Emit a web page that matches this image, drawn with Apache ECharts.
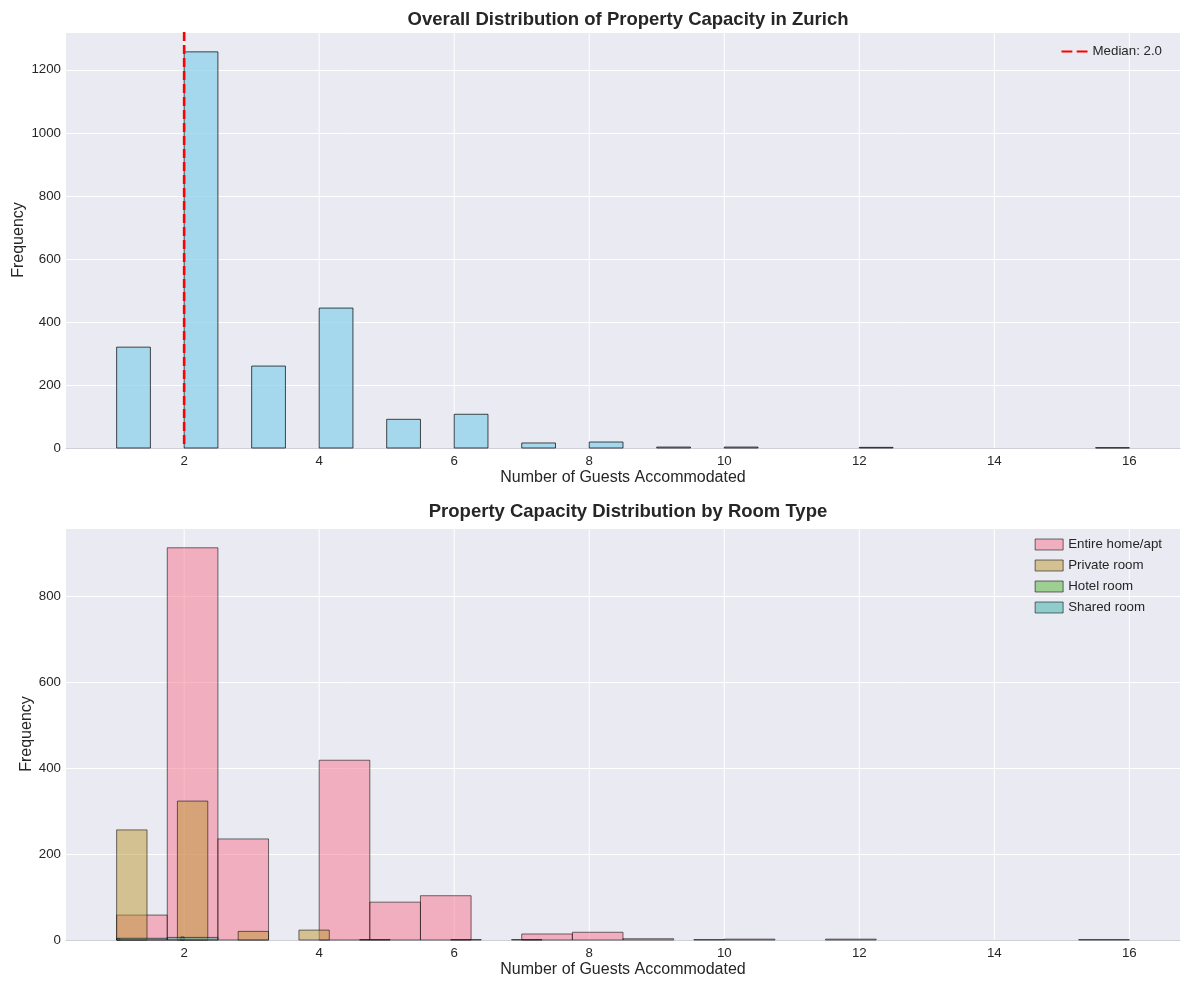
<!DOCTYPE html>
<html>
<head>
<meta charset="utf-8">
<title>Property Capacity in Zurich</title>
<script src="https://cdn.jsdelivr.net/npm/echarts@6/dist/echarts.min.js"></script>
<style>
  html, body { margin: 0; padding: 0; background: #fff; }
  #chart { width: 1189px; height: 990px; }
</style>
</head>
<body>
<div id="chart"></div>
<script>
// Overall histogram: 0.5-wide bins, left edge of each non-empty bin.
const OVERALL_BIN_LEFT = [1, 2, 3, 4, 5, 6, 7, 8, 9, 10, 12, 15.5];
const OVERALL_BIN_WIDTH = 0.5;
const OVERALL_COUNTS = [320, 1257, 260, 444, 91, 107, 16, 19, 3, 3, 2, 1];
const MEDIAN = 2.0;

// Per room type: each type got its own 20 bins over its own range.
const ROOM_TYPES = ['Entire home/apt', 'Private room', 'Hotel room', 'Shared room'];
const ROOM_BIN_WIDTH = [0.75, 0.45, 0.05, 0.75];
const ROOM_BIN_LEFT = [
  [1, 1.75, 2.5, 4, 4.75, 5.5, 7, 7.75, 8.5, 10, 11.5, 15.25],
  [1, 1.9, 2.8, 3.7, 4.6, 5.95, 6.85, 9.55],
  [1, 1.95],
  [1, 1.75],
];
const ROOM_COUNTS = [
  [58, 912, 235, 418, 88, 103, 14, 18, 3, 2, 2, 1],
  [256, 323, 20, 23, 1, 1, 1, 1],
  [3, 7],
  [4, 6],
];

const X_TICKS = [2, 4, 6, 8, 10, 12, 14, 16];

const X_MIN = 0.25, X_MAX = 16.75;
const TOP_Y_MAX = 1320;
const BOTTOM_Y_MAX = 958;

// seaborn "husl" colours, drawn at alpha 0.5 like the original
const ROOM_COLORS = [
  'rgba(247,113,137,0.5)',
  'rgba(187,152,50,0.5)',
  'rgba(80,177,49,0.5)',
  'rgba(54,173,164,0.5)',
];

const FONT = '"Liberation Sans", Arial, sans-serif';
const TEXT = '#262626';

function binData(lefts, width, counts) {
  return lefts.map((l, i) => [l, l + width, counts[i]]);
}

function barRenderer(fill, stroke) {
  return (params, api) => {
    const top = api.coord([api.value(0), api.value(2)]);
    const base = api.coord([api.value(1), 0]);
    return {
      type: 'rect',
      shape: { x: top[0], y: top[1], width: base[0] - top[0], height: base[1] - top[1] },
      style: { fill, stroke, lineWidth: 1 },
    };
  };
}

// White vertical grid lines at the x ticks (value axis min is not a tick multiple).
function gridLineSeries(idx) {
  return {
    type: 'custom',
    xAxisIndex: idx, yAxisIndex: idx,
    silent: true,
    z: 1,
    data: X_TICKS.map(v => [v]),
    encode: { x: 0 },
    renderItem: (params, api) => {
      const cs = params.coordSys;
      const x = api.coord([api.value(0), 0])[0];
      return {
        type: 'line',
        shape: { x1: x, y1: cs.y, x2: x, y2: cs.y + cs.height },
        style: { stroke: '#ffffff', lineWidth: 1 },
      };
    },
  };
}

function xAxis(idx) {
  return {
    type: 'value', gridIndex: idx,
    min: X_MIN, max: X_MAX, interval: 0.25,
    name: 'Number of Guests Accommodated',
    nameLocation: 'middle', nameGap: 22,
    nameMoveOverlap: false,
    nameTextStyle: { fontFamily: FONT, fontSize: 16, color: TEXT },
    axisLine: { show: true, lineStyle: { color: '#cfcfd8', width: 1 } },
    axisTick: { show: false },
    splitLine: { show: false },
    axisLabel: {
      fontFamily: FONT, fontSize: 13.3, color: TEXT, margin: 7,
      formatter: v => (X_TICKS.includes(v) ? String(v) : ''),
    },
  };
}

function yAxis(idx, max, gap) {
  return {
    type: 'value', gridIndex: idx,
    min: 0, max, interval: 200,
    name: 'Frequency',
    nameLocation: 'middle', nameGap: gap,
    nameMoveOverlap: false,
    nameTextStyle: { fontFamily: FONT, fontSize: 16, color: TEXT },
    axisLine: { show: false },
    axisTick: { show: false },
    splitLine: { show: true, lineStyle: { color: '#ffffff', width: 1 } },
    axisLabel: {
      fontFamily: FONT, fontSize: 13.3, color: TEXT, margin: 5,
      showMaxLabel: false,
      formatter: v => String(v),
    },
  };
}

const chart = echarts.init(document.getElementById('chart'));

const series = [
  gridLineSeries(0),
  {
    name: 'Overall',
    type: 'custom',
    xAxisIndex: 0, yAxisIndex: 0,
    z: 2,
    data: binData(OVERALL_BIN_LEFT, OVERALL_BIN_WIDTH, OVERALL_COUNTS),
    encode: { x: [0, 1], y: 2 },
    renderItem: barRenderer('rgba(135,206,235,0.7)', 'rgba(0,0,0,0.7)'),
  },
  {
    name: 'Median: 2.0',
    type: 'custom',
    xAxisIndex: 0, yAxisIndex: 0,
    z: 3,
    itemStyle: { color: '#ff0000' },
    data: [[MEDIAN]],
    encode: { x: 0 },
    renderItem: (params, api) => {
      const cs = params.coordSys;
      const x = api.coord([api.value(0), 0])[0];
      return {
        type: 'line',
        shape: { x1: x, y1: cs.y, x2: x, y2: cs.y + cs.height },
        style: { stroke: '#ff0000', lineWidth: 2.6, lineDash: [9, 4] },
      };
    },
  },
  gridLineSeries(1),
  ...ROOM_TYPES.map((name, i) => ({
    name,
    type: 'custom',
    xAxisIndex: 1, yAxisIndex: 1,
    z: 2 + i,
    itemStyle: { color: ROOM_COLORS[i], borderColor: 'rgba(0,0,0,0.55)', borderWidth: 1 },
    data: binData(ROOM_BIN_LEFT[i], ROOM_BIN_WIDTH[i], ROOM_COUNTS[i]),
    encode: { x: [0, 1], y: 2 },
    renderItem: barRenderer(ROOM_COLORS[i], 'rgba(0,0,0,0.55)'),
  })),
];

const gridBase = {
  left: 66, right: 9, show: true, backgroundColor: '#EAEAF2', borderWidth: 0,
  containLabel: false, outerBoundsMode: 'none',
};

chart.setOption({
  animation: false,
  backgroundColor: '#ffffff',
  textStyle: { fontFamily: FONT },
  title: [
    {
      text: 'Overall Distribution of Property Capacity in Zurich',
      left: 623, top: 5, textAlign: 'center',
      textStyle: { fontFamily: FONT, fontSize: 18.5, fontWeight: 'bold', color: TEXT },
    },
    {
      text: 'Property Capacity Distribution by Room Type',
      left: 623, top: 497, textAlign: 'center',
      textStyle: { fontFamily: FONT, fontSize: 18.5, fontWeight: 'bold', color: TEXT },
    },
  ],
  grid: [
    Object.assign({ top: 32, height: 416 }, gridBase),
    Object.assign({ top: 528, height: 412 }, gridBase),
  ],
  xAxis: [xAxis(0), xAxis(1)],
  yAxis: [yAxis(0, TOP_Y_MAX, 39), yAxis(1, BOTTOM_Y_MAX, 31)],
  legend: [
    {
      data: [{
        name: 'Median: 2.0',
        icon: 'path://M0,0H10V2H0Z M14,0H24V2H14Z',
        itemStyle: { color: '#ff0000' },
      }],
      right: 22, top: 40,
      itemWidth: 26, itemHeight: 3, itemGap: 10,
      textStyle: { fontFamily: FONT, fontSize: 13.3, color: TEXT },
    },
    {
      data: ROOM_TYPES.map((name, i) => ({
        name,
        icon: 'rect',
        itemStyle: { color: ROOM_COLORS[i], borderColor: 'rgba(0,0,0,0.55)', borderWidth: 1 },
      })),
      orient: 'vertical',
      right: 22, top: 533,
      itemWidth: 28, itemHeight: 11, itemGap: 8,
      textStyle: { fontFamily: FONT, fontSize: 13.3, color: TEXT },
    },
  ],
  series,
});
</script>
</body>
</html>
